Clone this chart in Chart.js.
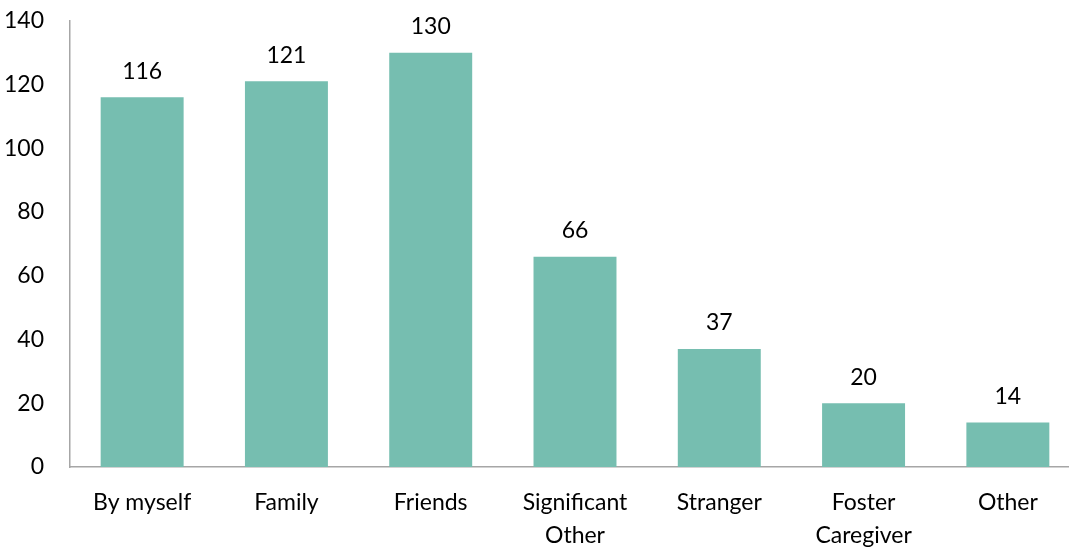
<!DOCTYPE html>
<html lang="en">
  <head>
    <meta charset="UTF-8" />
    <title>Who they were with</title>
    <script src="https://cdn.jsdelivr.net/npm/chart.js"></script>
    <style>
      html, body {
        margin: 0;
        padding: 0;
        background: #fff;
        overflow: hidden;
      }
      #wrap {
        width: 1080px;
        height: 548px;
        overflow: hidden;
      }
      /* pull the canvas up so the plot top sits near 20px */
      #barChart {
        display: block;
        margin-top: -19px;
      }
    </style>
  </head>
  <body>
    <div id="wrap">
      <canvas id="barChart" width="1080" height="567"></canvas>
    </div>

    <script>
      // Chart data
      const categories = [
        "By myself",
        "Family",
        "Friends",
        ["Significant", "Other"],
        "Stranger",
        ["Foster", "Caregiver"],
        "Other",
      ];
      const counts = [116, 121, 130, 66, 37, 20, 14];
      const yMax = 140;
      const yStep = 20;

      const fontFamily = "Lato, 'Open Sans', sans-serif";
      const fontSize = 23;

      // Value labels above each bar
      const valueLabels = {
        id: "valueLabels",
        afterDatasetsDraw(chart) {
          const ctx = chart.ctx;
          const meta = chart.getDatasetMeta(0);
          ctx.save();
          ctx.font = fontSize + "px " + fontFamily;
          ctx.fillStyle = "#000";
          ctx.textAlign = "center";
          ctx.textBaseline = "middle";
          meta.data.forEach((bar, i) => {
            ctx.fillText(String(counts[i]), bar.x, bar.y - 26);
          });
          ctx.restore();
        },
      };

      const ctx = document.getElementById("barChart").getContext("2d");
      new Chart(ctx, {
        type: "bar",
        data: {
          labels: categories,
          datasets: [
            {
              data: counts,
              backgroundColor: "#76beb0",
              barPercentage: 1,
              categoryPercentage: 0.575,
            },
          ],
        },
        options: {
          responsive: false,
          animation: false,
          layout: { padding: { top: 0, left: 0, right: 0, bottom: 0 } },
          plugins: {
            legend: { display: false },
            tooltip: { enabled: false },
          },
          scales: {
            x: {
              grid: { display: false, drawTicks: false },
              border: { color: "#a6a6a6", width: 1.5 },
              ticks: {
                color: "#000",
                padding: 19,
                maxRotation: 0,
                autoSkip: false,
                font: { family: fontFamily, size: fontSize, lineHeight: 1.43 },
              },
              afterFit(scale) {
                scale.height = 81;
              },
            },
            y: {
              min: 0,
              max: yMax,
              grid: { display: false, drawTicks: false },
              border: { color: "#a6a6a6", width: 1.5 },
              ticks: {
                stepSize: yStep,
                color: "#000",
                padding: 26,
                font: { family: fontFamily, size: fontSize },
              },
              afterFit(scale) {
                scale.width = 70;
              },
            },
          },
        },
        plugins: [valueLabels],
      });
    </script>
  </body>
</html>
